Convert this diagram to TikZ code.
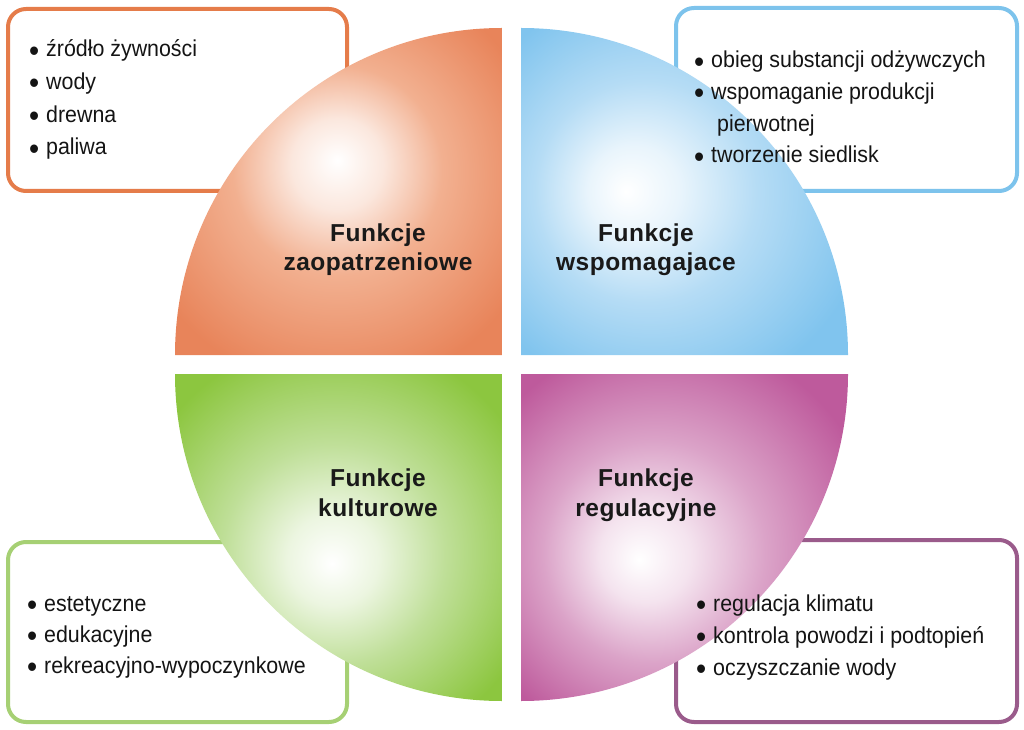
\documentclass[tikz,border=0pt]{standalone}
\usepackage{fontspec}
\usepackage{graphicx}
\setmainfont{Liberation Sans}
\newfontfamily\listfont[FakeStretch=0.93]{Liberation Sans}
\newfontfamily\titlefont[LetterSpace=2]{Liberation Sans}
\newcommand{\bul}{\raisebox{-0.19em}{\scalebox{1.35}{\textbullet}}\hspace{0.3em}}
\definecolor{oOut}{HTML}{E8845A}
\definecolor{oMid}{HTML}{F2B090}
\definecolor{oBrd}{HTML}{E57C4A}
\definecolor{bOut}{HTML}{80C4EE}
\definecolor{bMid}{HTML}{B5DCF5}
\definecolor{bBrd}{HTML}{7DC3EC}
\definecolor{gOut}{HTML}{8CC63F}
\definecolor{gMid}{HTML}{BFDF98}
\definecolor{gBrd}{HTML}{A6D074}
\definecolor{pOut}{HTML}{BE5A9C}
\definecolor{pMid}{HTML}{DBA3C8}
\definecolor{pBrd}{HTML}{9A5B8B}
\pgfdeclareradialshading{shOrange}{\pgfpoint{-0.2bp}{4.8bp}}{color(0bp)=(white); color(7bp)=(oMid!30!white); color(16bp)=(oMid); color(32bp)=(oOut); color(50bp)=(oOut)}
\pgfdeclareradialshading{shBlue}{\pgfpoint{-9bp}{0bp}}{color(0bp)=(white); color(7bp)=(bMid!30!white); color(17bp)=(bMid); color(32bp)=(bOut); color(50bp)=(bOut)}
\pgfdeclareradialshading{shGreen}{\pgfpoint{-1bp}{-4bp}}{color(0bp)=(white); color(7bp)=(gMid!30!white); color(17bp)=(gMid); color(32bp)=(gOut); color(50bp)=(gOut)}
\pgfdeclareradialshading{shPurple}{\pgfpoint{-7bp}{-3.4bp}}{color(0bp)=(white); color(7bp)=(pMid!30!white); color(17bp)=(pMid); color(32bp)=(pOut); color(50bp)=(pOut)}
\tikzset{
  infobox/.style={draw, line width=4pt, rounded corners=18pt, fill=white, inner sep=0pt},
  listtext/.style={anchor=base west, inner sep=0pt, align=left, text=black!92},
  titletext/.style={anchor=base, inner sep=0pt, align=center, text=black!90,
    font={\titlefont\bfseries\fontsize{24.5}{29.5}\selectfont}},
}
\begin{document}
\begin{tikzpicture}[x=1pt,y=1pt]
\useasboundingbox (0,0) rectangle (1024,729);
% boxes (behind)
\node[infobox, draw=oBrd, minimum width=339pt, minimum height=182pt] (boxTL) at (177.5,629) {};
\node[infobox, draw=bBrd, minimum width=341pt, minimum height=183pt] (boxTR) at (846.5,629.5) {};
\node[infobox, draw=gBrd, minimum width=339pt, minimum height=180pt] (boxBL) at (177.5,97) {};
\node[infobox, draw=pBrd, minimum width=341pt, minimum height=182pt] (boxBR) at (846.5,98) {};
% quadrants
\shade[shading=shOrange] (502,374) -- (175,374) arc[start angle=180, end angle=90, radius=327] -- cycle;
\shade[shading=shBlue] (521,374) -- (521,701) arc[start angle=90, end angle=0, radius=327] -- cycle;
\shade[shading=shGreen] (502,355) -- (175,355) arc[start angle=180, end angle=270, radius=327] -- cycle;
\shade[shading=shPurple] (521,355) -- (848,355) arc[start angle=0, end angle=-90, radius=327] -- cycle;
% titles (anchor = baseline of last line)
\node[titletext] (tTL) at (378,458) {Funkcje\\zaopatrzeniowe};
\node[titletext] (tTR) at (646,458) {Funkcje\\wspomagajace};
\node[titletext] (tBL) at (378,213) {Funkcje\\kulturowe};
\node[titletext] (tBR) at (646,213) {Funkcje\\regulacyjne};
% lists (anchor = baseline of last line)
\node[listtext, font={\listfont\fontsize{23}{32.7}\selectfont}] (lTL) at (29,574) {\bul źródło żywności\\\bul wody\\\bul drewna\\\bul paliwa};
\node[listtext, font={\listfont\fontsize{23}{31.7}\selectfont}] (lTR) at (694,566) {\bul obieg substancji odżywczych\\\bul wspomaganie produkcji\\\hspace{23pt}pierwotnej\\\bul tworzenie siedlisk};
\node[listtext, font={\listfont\fontsize{23}{31}\selectfont}] (lBL) at (27,56) {\bul estetyczne\\\bul edukacyjne\\\bul rekreacyjno-wypoczynkowe};
\node[listtext, font={\listfont\fontsize{23}{32}\selectfont}] (lBR) at (696,54) {\bul regulacja klimatu\\\bul kontrola powodzi i podtopień\\\bul oczyszczanie wody};
\end{tikzpicture}
\end{document}
